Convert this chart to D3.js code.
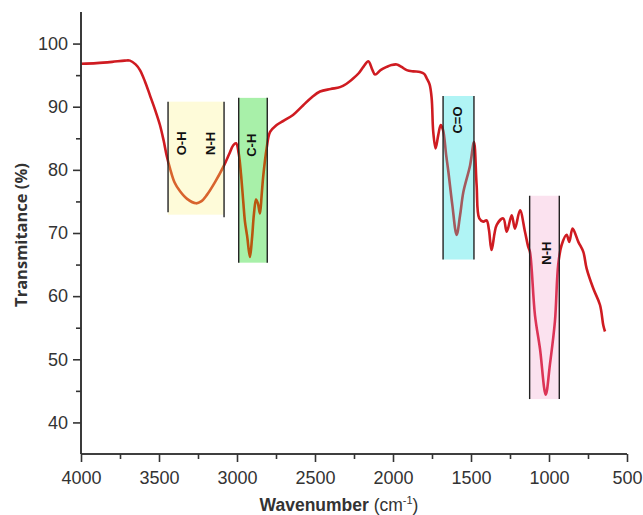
<!DOCTYPE html>
<html><head><meta charset="utf-8">
<script src="https://cdn.jsdelivr.net/npm/d3@7"></script>
<style>body{margin:0;background:#fff}svg{display:block}</style>
</head><body>
<svg id="c" width="643" height="515"></svg>
<script>
// ---- data ----
const wavenumber = [4000,3900,3800,3720,3686,3650,3622,3590,3558,3525,3494,3470,3451,3429,3400,3365,3320,3263,3230,3194,3140,3083,3050,3024,3006,2989,2975,2960,2949,2935,2917,2904,2891,2878,2866,2853,2842,2831,2810,2788,2746,2700,2641,2577,2520,2468,2400,2340,2300,2254,2220,2190,2158,2135,2115,2080,2041,2010,1976,1945,1912,1870,1827,1800,1784,1765,1752,1742,1727,1710,1694,1679,1660,1645,1620,1592,1570,1549,1506,1481,1464,1447,1421,1400,1385,1368,1335,1293,1271,1239,1218,1186,1154,1133,1122,1090,1058,1021,994,962,941,919,887,870,849,812,780,759,716,673,652,641];
const transmittance = [96.8,96.9,97.1,97.3,97.3,96.7,95.8,94.0,91.8,89.5,87.1,84.6,82.3,80.2,78.0,76.6,75.4,74.7,75.0,76.0,78.1,80.7,82.5,83.9,84.2,82.6,79.5,75.0,71.8,69.5,66.2,69.1,73.1,75.3,74.7,73.1,76.0,79.2,83.4,86.0,87.1,87.8,88.7,90.2,91.5,92.4,92.8,93.1,93.6,94.5,95.3,96.3,97.2,96.0,95.1,95.8,96.3,96.6,96.7,96.3,95.8,95.6,95.5,95.2,94.5,93.5,91.3,86.0,83.4,85.5,87.1,86.3,82.5,79.7,74.5,69.7,72.8,76.5,80.7,84.4,77.6,72.3,71.8,72.0,70.5,67.3,71.3,72.3,70.2,72.8,70.7,73.6,70.2,67.8,67.0,57.0,51.7,44.4,49.2,56.0,65.0,68.1,69.7,68.6,70.7,68.6,67.0,64.4,61.2,58.6,55.4,54.4];

const xTicks = [4000,3500,3000,2500,2000,1500,1000,500];
const yTicks = [40,50,60,70,80,90,100];

// absorption bands
const bandLabels = [["O-H","N-H"],["C-H"],["C=O"],["N-H"]];
const bandFrom = [3442,2989,1679,1124];
const bandTo = [3083,2806,1481,934];
const bandTop = [90.8,91.4,91.7,75.9];
const bandBottom = [72.9,65.3,65.8,43.7];
const bandLeftBottom = [73.3,65.3,65.8,43.7];
const bandRightBottom = [72.5,65.3,65.8,43.7];
const labelWn = [[3353,3173],[2904],[1585],[1019]];
const labelY = [[84.2,84.2],[83.9],[87.9],[66.8]];
const bandFill = ["#fefbd9","#a8f0a9","#b0f4f5","#fbe2ef"];
const bandLine = ["#d8642e","#b9560f","#a35a5e","#dc3456"];

// ---- chart ----
const svg = d3.select("#c");
const x = d3.scaleLinear().domain([4000,500]).range([81,627]);
const y = d3.scaleLinear().domain([35,105]).range([454,12]);

const pts = wavenumber.map((w,i)=>[w,transmittance[i]]);
const line = d3.line().x(d=>x(d[0])).y(d=>y(d[1])).curve(d3.curveCatmullRom.alpha(0.5));

svg.append("path").attr("d",line(pts)).attr("fill","none")
  .attr("stroke","#cf1b21").attr("stroke-width",2.6).attr("stroke-linejoin","round");

const defs = svg.append("defs");
bandFrom.forEach((f,i)=>{
  const x0 = x(f), x1 = x(bandTo[i]);
  const y0 = y(bandTop[i]), y1 = y(bandBottom[i]);
  defs.append("clipPath").attr("id","clip"+i).append("rect")
    .attr("x",x0).attr("y",0).attr("width",x1-x0).attr("height",515);
  svg.append("rect").attr("x",x0).attr("y",y0).attr("width",x1-x0).attr("height",y1-y0)
    .attr("fill",bandFill[i]);
  svg.append("path").attr("d",line(pts)).attr("fill","none")
    .attr("clip-path","url(#clip"+i+")")
    .attr("stroke",bandLine[i]).attr("stroke-width",2.6).attr("stroke-linejoin","round");
  svg.append("line").attr("x1",x0).attr("x2",x0).attr("y1",y0).attr("y2",y(bandLeftBottom[i]))
    .attr("stroke","#222").attr("stroke-width",1.4);
  svg.append("line").attr("x1",x1).attr("x2",x1).attr("y1",y0).attr("y2",y(bandRightBottom[i]))
    .attr("stroke","#222").attr("stroke-width",1.4);
  bandLabels[i].forEach((t,j)=>{
    const lx = x(labelWn[i][j]), ly = y(labelY[i][j]);
    svg.append("text").text(t)
      .attr("transform",`translate(${lx},${ly}) rotate(-90)`)
      .attr("text-anchor","middle").attr("dominant-baseline","central")
      .attr("font-family","Liberation Sans, Arial, sans-serif").attr("font-weight","bold")
      .attr("font-size",13).attr("fill","#111");
  });
});

// axes
const axisColor = "#333";
const gx = svg.append("g").attr("transform","translate(0,454)");
gx.call(d3.axisBottom(x).tickValues(d3.range(3750,500,-500)).tickSize(5).tickFormat(""));
const gx2 = svg.append("g").attr("transform","translate(0,454)")
  .call(d3.axisBottom(x).tickValues(xTicks).tickSize(8).tickPadding(9).tickFormat(d3.format("d")));
const gy = svg.append("g").attr("transform","translate(81,0)");
gy.call(d3.axisLeft(y).tickValues(d3.range(45,105,10)).tickSize(5).tickFormat(""));
const gy2 = svg.append("g").attr("transform","translate(81,0)")
  .call(d3.axisLeft(y).tickValues(yTicks).tickSize(8).tickPadding(5).tickFormat(d3.format("d")));
[gx,gx2,gy,gy2].forEach(g=>{
  g.selectAll("path").attr("stroke",axisColor).attr("stroke-width",1.6);
  g.selectAll("line").attr("stroke",axisColor).attr("stroke-width",1.6);
  g.selectAll("text").attr("font-family","Liberation Sans, Arial, sans-serif")
    .attr("font-size",18).attr("fill","#333");
});
gx.select("path").attr("d","M81,0H627");
gx2.select("path").attr("d","M81,0H627");
gy.select("path").attr("d","M0,454V12");
gy2.select("path").attr("d","M0,454V12");

// axis titles
svg.append("text").attr("transform","translate(27,235) rotate(-90)")
  .attr("text-anchor","middle").attr("font-family","Open Sans, sans-serif")
  .attr("font-weight","bold").attr("font-size",16.5).attr("fill","#333").text("Transmitance (%)");
const xt = svg.append("text").attr("x",339).attr("y",511).attr("text-anchor","middle")
  .attr("font-family","Liberation Sans, Arial, sans-serif").attr("font-size",17.5).attr("fill","#333");
xt.append("tspan").attr("font-weight","bold").text("Wavenumber ");
xt.append("tspan").text("(cm");
xt.append("tspan").attr("font-size",11).attr("dy",-7).text("-1");
xt.append("tspan").attr("dy",7).text(")");
</script>
</body></html>
